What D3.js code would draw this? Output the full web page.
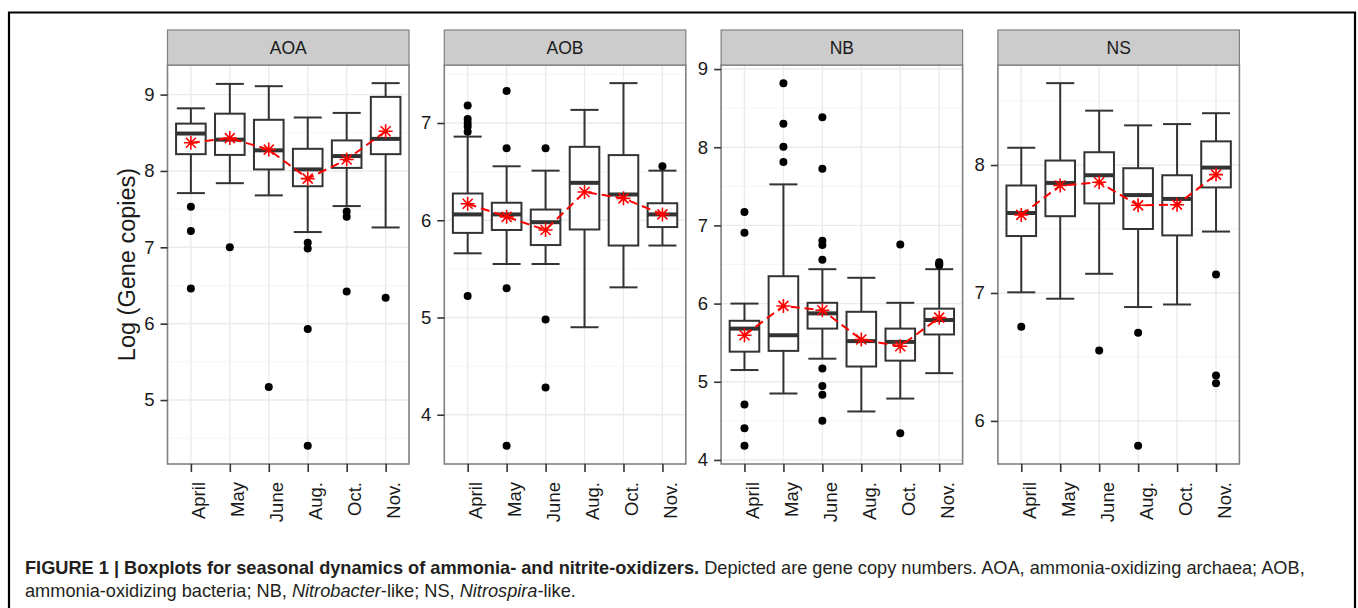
<!DOCTYPE html>
<html>
<head>
<meta charset="utf-8">
<script src="https://cdn.jsdelivr.net/npm/d3@7"></script>
<style>
  body { margin: 0; background: #fff; }
  svg { display: block; font-family: "Liberation Sans", Arial, sans-serif; }
</style>
</head>
<body>
<div id="chart-area"></div>
<script>
// categories
var months = ["April", "May", "June", "Aug.", "Oct.", "Nov."];
var groups = ["AOA", "AOB", "NB", "NS"];

// box stats per month: [lower whisker, Q1, median, Q3, upper whisker]
var aoaBox = [[7.71, 8.22, 8.49, 8.62, 8.82], [7.84, 8.21, 8.41, 8.75, 9.14], [7.68, 8.02, 8.27, 8.67, 9.11],
              [7.20, 7.80, 8.02, 8.29, 8.70], [7.54, 8.04, 8.195, 8.40, 8.76], [7.26, 8.22, 8.42, 8.97, 9.15]];
var aoaMean = [8.37, 8.43, 8.28, 7.90, 8.15, 8.52];
var aoaOut = [[7.53, 7.215, 6.46], [7.0], [5.17], [7.06, 6.985, 5.93, 4.40], [7.47, 7.40, 6.42], [6.34]];

var aobBox = [[5.66, 5.87, 6.06, 6.275, 6.86], [5.55, 5.90, 6.06, 6.18, 6.555], [5.55, 5.745, 5.98, 6.11, 6.51],
              [4.90, 5.905, 6.385, 6.755, 7.135], [5.31, 5.74, 6.265, 6.67, 7.41], [5.74, 5.93, 6.06, 6.175, 6.51]];
var aobMean = [6.17, 6.035, 5.90, 6.29, 6.225, 6.06];
var aobOut = [[7.18, 7.04, 7.0, 6.965, 6.91, 5.22], [7.33, 6.74, 5.30, 3.68], [6.74, 4.98, 4.28], [], [], [6.555]];

var nbBox = [[5.15, 5.385, 5.68, 5.78, 6.0], [4.85, 5.395, 5.595, 6.35, 7.525], [5.295, 5.68, 5.875, 6.01, 6.44],
             [4.62, 5.195, 5.52, 5.895, 6.33], [4.785, 5.27, 5.51, 5.68, 6.01], [5.11, 5.605, 5.79, 5.935, 6.44]];
var nbMean = [5.595, 5.97, 5.915, 5.54, 5.455, 5.82];
var nbOut = [[7.17, 6.905, 4.71, 4.405, 4.18], [8.82, 8.30, 8.005, 7.81],
             [8.385, 7.725, 6.805, 6.75, 6.56, 5.17, 4.945, 4.835, 4.50], [], [6.755, 4.34], [6.53, 6.51, 6.49]];

var nsBox = [[7.005, 7.445, 7.625, 7.84, 8.135], [6.955, 7.60, 7.86, 8.035, 8.64], [7.15, 7.70, 7.92, 8.10, 8.425],
             [6.89, 7.50, 7.765, 7.975, 8.31], [6.91, 7.45, 7.735, 7.92, 8.32], [7.48, 7.825, 7.98, 8.185, 8.405]];
var nsMean = [7.61, 7.84, 7.865, 7.685, 7.69, 7.925];
var nsOut = [[6.735], [], [6.55], [6.69, 5.805], [], [7.145, 6.355, 6.295]];

var panels = [
  {name: groups[0], box: aoaBox, mean: aoaMean, out: aoaOut},
  {name: groups[1], box: aobBox, mean: aobMean, out: aobOut},
  {name: groups[2], box: nbBox, mean: nbMean, out: nbOut},
  {name: groups[3], box: nsBox, mean: nsMean, out: nsOut}
];

var W = 1358, H = 608;
var left0 = 167.5, step = 276.8, panelW = 241.5;
var stripTop = 30, plotTop = 65, plotBottom = 464;

var svg = d3.select("#chart-area").append("svg")
    .attr("width", W)
    .attr("height", H);

// figure frame (open at the bottom)
svg.append("path")
    .attr("d", "M9,608 V12.5 H1355 V608")
    .attr("fill", "none")
    .attr("stroke", "#000")
    .attr("stroke-width", 2.2);

var x = d3.scalePoint()
    .domain(months)
    .range([0, panelW])
    .padding(0.6);

panels.forEach(function(p, i) {
  var g = svg.append("g")
      .attr("transform", "translate(" + (left0 + i * step) + ",0)");

  var all = [];
  p.box.forEach(function(b) { all = all.concat(b); });
  p.out.forEach(function(o) { all = all.concat(o); });
  all = all.concat(p.mean);
  var lo = d3.min(all), hi = d3.max(all), pad = (hi - lo) * 0.05;

  var y = d3.scaleLinear()
      .domain([lo - pad, hi + pad])
      .range([plotBottom, plotTop]);

  // grid
  var ticks = y.ticks(5).filter(function(t) { return Number.isInteger(t); });
  var minor = [];
  var tks = d3.range(Math.floor(lo - pad), Math.ceil(hi + pad) + 1);
  tks.forEach(function(t) {
    var m = t + 0.5;
    if (m > y.domain()[0] && m < y.domain()[1]) minor.push(m);
  });

  g.selectAll(".minor").data(minor).enter().append("line")
      .attr("x1", 0).attr("x2", panelW)
      .attr("y1", function(d) { return y(d); })
      .attr("y2", function(d) { return y(d); })
      .attr("stroke", "#f6f6f6").attr("stroke-width", 1);

  g.selectAll(".major").data(ticks).enter().append("line")
      .attr("x1", 0).attr("x2", panelW)
      .attr("y1", function(d) { return y(d); })
      .attr("y2", function(d) { return y(d); })
      .attr("stroke", "#ebebeb").attr("stroke-width", 1.4);

  g.selectAll(".vmajor").data(months).enter().append("line")
      .attr("x1", function(d) { return x(d); })
      .attr("x2", function(d) { return x(d); })
      .attr("y1", plotTop).attr("y2", plotBottom)
      .attr("stroke", "#ebebeb").attr("stroke-width", 1.4);

  var bw = x.step() * 0.76, cw = x.step() * 0.72;

  var rows = months.map(function(m, k) {
    return {m: m, b: p.box[k], mean: p.mean[k], out: p.out[k]};
  });

  var bx = g.selectAll(".bx").data(rows).enter().append("g");

  // whiskers
  bx.append("line")
      .attr("x1", function(d) { return x(d.m); }).attr("x2", function(d) { return x(d.m); })
      .attr("y1", function(d) { return y(d.b[4]); }).attr("y2", function(d) { return y(d.b[3]); })
      .attr("stroke", "#333").attr("stroke-width", 2);
  bx.append("line")
      .attr("x1", function(d) { return x(d.m); }).attr("x2", function(d) { return x(d.m); })
      .attr("y1", function(d) { return y(d.b[1]); }).attr("y2", function(d) { return y(d.b[0]); })
      .attr("stroke", "#333").attr("stroke-width", 2);
  // caps
  [0, 4].forEach(function(j) {
    bx.append("line")
        .attr("x1", function(d) { return x(d.m) - cw / 2; }).attr("x2", function(d) { return x(d.m) + cw / 2; })
        .attr("y1", function(d) { return y(d.b[j]); }).attr("y2", function(d) { return y(d.b[j]); })
        .attr("stroke", "#333").attr("stroke-width", 2);
  });
  // box
  bx.append("rect")
      .attr("x", function(d) { return x(d.m) - bw / 2; })
      .attr("width", bw)
      .attr("y", function(d) { return y(d.b[3]); })
      .attr("height", function(d) { return y(d.b[1]) - y(d.b[3]); })
      .attr("fill", "#fff").attr("stroke", "#333").attr("stroke-width", 2);
  // median
  bx.append("line")
      .attr("x1", function(d) { return x(d.m) - bw / 2; }).attr("x2", function(d) { return x(d.m) + bw / 2; })
      .attr("y1", function(d) { return y(d.b[2]); }).attr("y2", function(d) { return y(d.b[2]); })
      .attr("stroke", "#333").attr("stroke-width", 4);

  // outliers
  bx.selectAll("circle")
      .data(function(d) { return d.out.map(function(v) { return {m: d.m, v: v}; }); })
      .enter().append("circle")
      .attr("cx", function(d) { return x(d.m); })
      .attr("cy", function(d) { return y(d.v); })
      .attr("r", 4)
      .attr("fill", "#000");

  // mean line
  var line = d3.line()
      .x(function(d) { return x(d.m); })
      .y(function(d) { return y(d.mean); });
  g.append("path")
      .datum(rows)
      .attr("d", line)
      .attr("fill", "none")
      .attr("stroke", "#ff0000")
      .attr("stroke-width", 2)
      .attr("stroke-dasharray", "9,5");

  // mean asterisks
  var s = 7, sd = 5;
  g.selectAll(".star").data(rows).enter().append("path")
      .attr("d", function(d) {
        var cx = x(d.m), cy = y(d.mean);
        return "M" + (cx - s) + "," + cy + "H" + (cx + s) +
               "M" + cx + "," + (cy - s) + "V" + (cy + s) +
               "M" + (cx - sd) + "," + (cy - sd) + "L" + (cx + sd) + "," + (cy + sd) +
               "M" + (cx - sd) + "," + (cy + sd) + "L" + (cx + sd) + "," + (cy - sd);
      })
      .attr("fill", "none")
      .attr("stroke", "#ff0000")
      .attr("stroke-width", 1.6);

  // panel border
  g.append("rect")
      .attr("x", 0).attr("y", plotTop)
      .attr("width", panelW).attr("height", plotBottom - plotTop)
      .attr("fill", "none").attr("stroke", "#808080").attr("stroke-width", 1.6);

  // strip
  g.append("rect")
      .attr("x", 0).attr("y", stripTop)
      .attr("width", panelW).attr("height", plotTop - stripTop)
      .attr("fill", "#cccccc").attr("stroke", "#808080").attr("stroke-width", 1.2);
  g.append("text")
      .attr("x", panelW / 2).attr("y", (stripTop + plotTop) / 2)
      .attr("dy", "0.36em")
      .attr("text-anchor", "middle")
      .attr("font-size", "17.5px")
      .attr("fill", "#1a1a1a")
      .text(p.name);

  // axes
  var yAxis = g.append("g")
      .call(d3.axisLeft(y).tickValues(ticks).tickSize(7).tickPadding(6).tickFormat(d3.format("d")));
  yAxis.select(".domain").remove();
  yAxis.selectAll("line").attr("stroke", "#333").attr("stroke-width", 1.6);
  yAxis.selectAll("text").attr("font-size", "18.5px").attr("fill", "#1a1a1a").attr("font-family", null);

  var xAxis = g.append("g")
      .attr("transform", "translate(0," + plotBottom + ")")
      .call(d3.axisBottom(x).tickSize(8));
  xAxis.select(".domain").remove();
  xAxis.selectAll("line").attr("stroke", "#333").attr("stroke-width", 1.6);
  xAxis.selectAll("text")
      .attr("transform", "rotate(-90)")
      .attr("text-anchor", "end")
      .attr("x", -18)
      .attr("y", 14)
      .attr("dy", null)
      .attr("font-size", "18.5px")
      .attr("fill", "#1a1a1a")
      .attr("font-family", null);
});

// y axis title
svg.append("text")
    .attr("transform", "translate(135," + ((plotTop + plotBottom) / 2) + ") rotate(-90)")
    .attr("text-anchor", "middle")
    .attr("font-size", "23.5px")
    .attr("fill", "#1a1a1a")
    .text("Log (Gene copies)");

// caption
var cap1 = svg.append("text")
    .attr("x", 25).attr("y", 574)
    .attr("font-size", "18.2px")
    .attr("fill", "#231f20");
cap1.append("tspan").attr("font-weight", "bold")
    .text("FIGURE 1 | Boxplots for seasonal dynamics of ammonia- and nitrite-oxidizers.");
cap1.append("tspan")
    .text(" Depicted are gene copy numbers. AOA, ammonia-oxidizing archaea; AOB,");

var cap2 = svg.append("text")
    .attr("x", 25).attr("y", 597)
    .attr("font-size", "18.2px")
    .attr("fill", "#231f20");
cap2.append("tspan").text("ammonia-oxidizing bacteria; NB, ");
cap2.append("tspan").attr("font-style", "italic").text("Nitrobacter");
cap2.append("tspan").text("-like; NS, ");
cap2.append("tspan").attr("font-style", "italic").text("Nitrospira");
cap2.append("tspan").text("-like.");
</script>
</body>
</html>
